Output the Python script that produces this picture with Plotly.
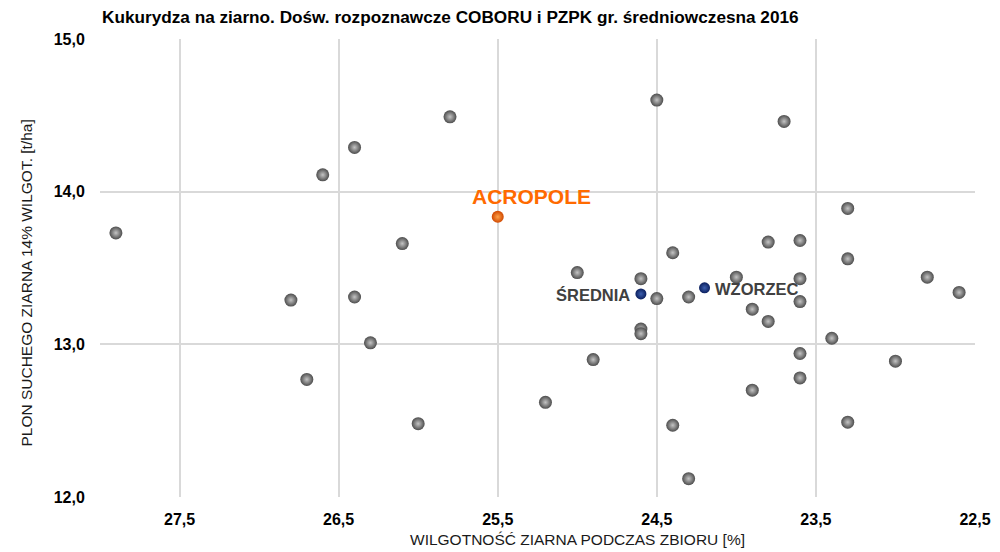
import plotly.graph_objects as go

# grain moisture at harvest [%] and dry grain yield at 14% moisture [t/ha]
moisture = [27.9, 26.6, 26.4, 25.8, 26.1, 24.5, 23.7, 23.3, 24.4, 23.8,
            23.6, 23.3, 25.0, 22.8, 22.6, 24.6, 24.5, 24.3, 24.0, 23.6,
            23.6, 23.9, 23.8, 24.6, 24.6, 23.4, 23.6, 24.9, 23.0, 23.6,
            23.9, 25.2, 24.4, 23.3, 24.3, 26.8, 26.4, 26.3, 26.7, 26.0]
yields = [13.73, 14.11, 14.29, 14.49, 13.66, 14.60, 14.46, 13.89, 13.60, 13.67,
          13.68, 13.56, 13.47, 13.44, 13.34, 13.43, 13.30, 13.31, 13.44, 13.43,
          13.28, 13.23, 13.15, 13.10, 13.07, 13.04, 12.94, 12.90, 12.89, 12.78,
          12.70, 12.62, 12.47, 12.49, 12.12, 13.29, 13.31, 13.01, 12.77, 12.48]

acropole_x = [25.5]
acropole_y = [13.835]
mean_x = [24.6]
mean_y = [13.33]
standard_x = [24.2]
standard_y = [13.37]

x_ticks = [27.5, 26.5, 25.5, 24.5, 23.5, 22.5]
y_ticks = [12.0, 13.0, 14.0, 15.0]

fig = go.Figure()

# the other hybrids - grey "spheres" (radial gradient: gradient.color is the centre)
fig.add_trace(go.Scatter(
    x=moisture, y=yields, mode="markers", hoverinfo="x+y",
    marker=dict(size=13, color="#4d4d4d", line=dict(width=0),
                gradient=dict(type="radial", color="#c4c4c4"))
))

# mean and standard
fig.add_trace(go.Scatter(
    x=mean_x + standard_x, y=mean_y + standard_y, mode="markers",
    marker=dict(size=11, color="#0b1f5e", line=dict(width=0),
                gradient=dict(type="radial", color="#3d5fae"))
))

# ACROPOLE
fig.add_trace(go.Scatter(
    x=acropole_x, y=acropole_y, mode="markers",
    marker=dict(size=12, color="#d04800", line=dict(width=0),
                gradient=dict(type="radial", color="#ffa24a"))
))

bold = "Liberation Sans, Arial, sans-serif"
fig.add_annotation(x=acropole_x[0], y=acropole_y[0], text="<b>ACROPOLE</b>",
                   showarrow=False, xshift=34, yshift=20,
                   font=dict(family=bold, size=21, color="#ff6a00"))
fig.add_annotation(x=mean_x[0], y=mean_y[0], text="<b>ŚREDNIA</b>",
                   showarrow=False, xanchor="right", xshift=-9, yshift=-1,
                   font=dict(family=bold, size=16.5, color="#404040"))
fig.add_annotation(x=standard_x[0], y=standard_y[0], text="<b>WZORZEC</b>",
                   showarrow=False, xanchor="left", xshift=8, yshift=-1,
                   font=dict(family=bold, size=16.5, color="#404040"))

# axis titles sit off-centre in the original, so they are placed as annotations
fig.add_annotation(xref="paper", yref="paper", x=0.546, y=0, yshift=-42,
                   xanchor="center", yanchor="middle", showarrow=False,
                   text="WILGOTNOŚĆ ZIARNA PODCZAS ZBIORU [%]",
                   font=dict(family=bold, size=15.5, color="#1a1a1a"))
fig.add_annotation(xref="paper", yref="paper", x=0, xshift=-73, y=0.466,
                   xanchor="center", yanchor="middle", showarrow=False,
                   textangle=-90,
                   text="PLON SUCHEGO ZIARNA 14% WILGOT. [t/ha]",
                   font=dict(family=bold, size=15.5, color="#1a1a1a"))

# the page body adds an 8px offset, so margins are shifted to compensate
fig.update_layout(
    width=1000, height=552,
    margin=dict(l=92, r=33, t=31, b=63),
    paper_bgcolor="white", plot_bgcolor="white",
    showlegend=False,
    separators=", ",
    font=dict(family=bold, color="#000000"),
    title=dict(text="<b>Kukurydza na ziarno. Dośw. rozpoznawcze COBORU i PZPK gr. średniowczesna 2016</b>",
               x=0.094, xref="container", xanchor="left",
               y=0.984, yref="container", yanchor="middle",
               font=dict(size=17.2, color="#000000")),
    xaxis=dict(range=[28.0, 22.5], tickvals=x_ticks, tickformat=".1f",
               showgrid=True, gridcolor="#d9d9d9", gridwidth=1.5,
               zeroline=False, showline=False,
               ticks="outside", ticklen=8, tickcolor="rgba(0,0,0,0)",
               tickfont=dict(size=16, color="#000000", weight="bold")),
    yaxis=dict(range=[12.0, 15.0], tickvals=y_ticks, tickformat=".1f",
               showgrid=True, gridcolor="#d9d9d9", gridwidth=1.5,
               zeroline=False, showline=False,
               ticks="outside", ticklen=11, tickcolor="rgba(0,0,0,0)",
               tickfont=dict(size=16, color="#000000", weight="bold")),
)

fig.write_html("out.html")
